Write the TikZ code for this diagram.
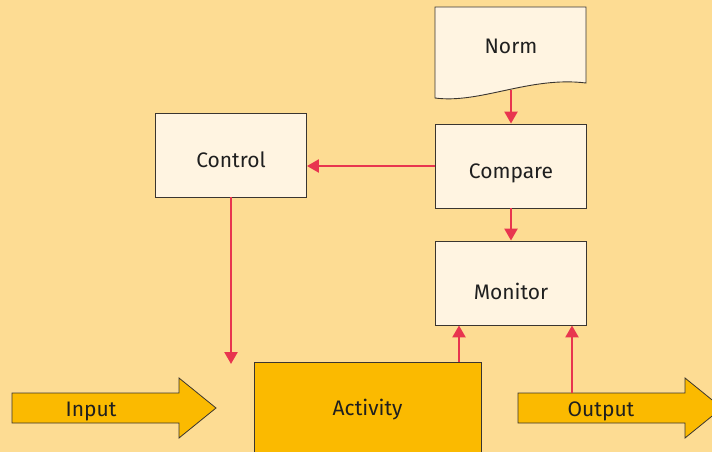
\documentclass[tikz,border=0pt]{standalone}
\usepackage{fontspec}
\setmainfont{Fira Sans}
\usepackage{xcolor}
\usetikzlibrary{arrows.meta}

\definecolor{bgcol}{HTML}{FDDC93}
\definecolor{boxcol}{HTML}{FFF4E1}
\definecolor{actcol}{HTML}{FBBA00}
\definecolor{flowcol}{HTML}{E8354F}
\definecolor{edgecol}{HTML}{3A3530}

\begin{document}
\begin{tikzpicture}[x=1pt,y=-1pt,
  lbl/.style={font=\fontsize{21}{24}\selectfont,text=black!88},
  box/.style={lbl,draw=edgecol,fill=boxcol,line width=0.9pt,minimum width=151pt,minimum height=84pt,text height=28pt,text depth=4pt},
  fat/.style={draw=edgecol,fill=actcol,line width=0.8pt},
  flow/.style={flowcol,line width=2.5pt,-{Triangle[width=13pt,length=12pt]}}]

\fill[bgcol] (0,0) rectangle (712,452);
\clip (0,0) rectangle (712,452);

\draw[fill=boxcol,draw=edgecol,line width=0.9pt] (435,7) -- (586,7) -- (586,83)
  .. controls (530,76) and (480,104) .. (435,98) -- cycle;
\node[lbl,anchor=base] (norm) at (511,53) {Norm};
\coordinate (normb) at (511,90);

\node[box] (cmp) at (511,166) {Compare};
\node[box] (ctl) at (231,155) {Control};
\node[box,text height=36pt] (mon) at (511,283) {Monitor};
\node[box,fill=actcol,minimum width=227pt,minimum height=92pt,text height=18pt] (act) at (367.5,408) {Activity};

\draw[fat] (12,393) -- (179,393) -- (179,378) -- (216,408) -- (179,438) -- (179,423) -- (12,423) -- cycle;
\node[lbl,anchor=base] (inp) at (91,416) {Input};
\draw[fat] (518,393) -- (685,393) -- (685,378) -- (722,408) -- (685,438) -- (685,423) -- (518,423) -- cycle;
\node[lbl,anchor=base] (outp) at (601,416) {Output};

\coordinate (ctlend) at (231,364);
\coordinate (actout) at (459,362);
\coordinate (outtop) at (572,393);

\draw[flow] (normb) -- (cmp.north);
\draw[flow] (cmp.west) -- (ctl.east |- cmp.west);
\draw[flow] (ctl.south) -- (ctlend);
\draw[flow] (cmp.south) -- (mon.north);
\draw[flow] (actout) -- (actout |- mon.south);
\draw[flow] (outtop) -- (outtop |- mon.south);

\end{tikzpicture}
\end{document}
